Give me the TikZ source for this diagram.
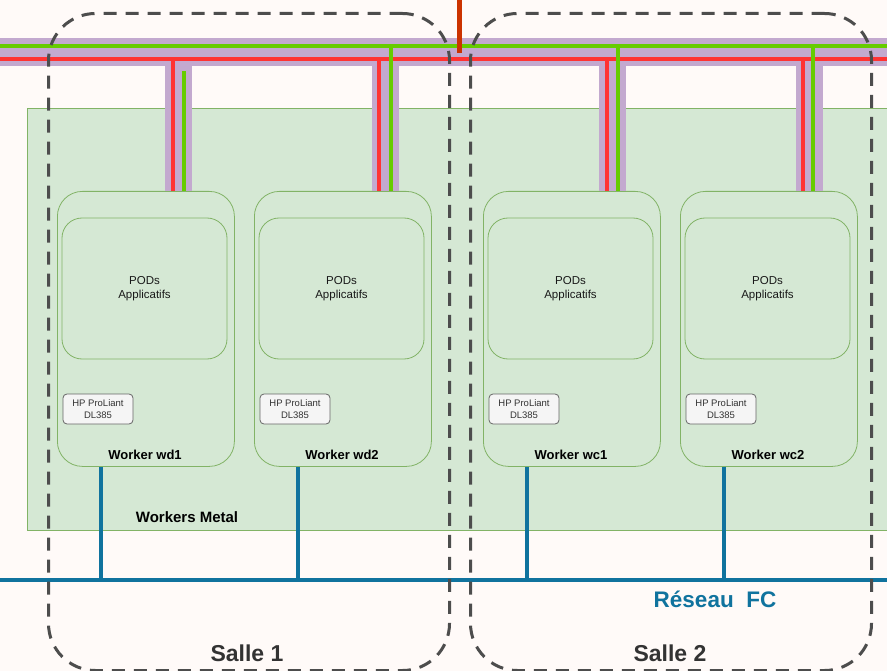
\documentclass[tikz,border=0pt]{standalone}
\usepackage{fontspec}
\setmainfont{Liberation Sans}
\usetikzlibrary{calc}
\definecolor{bgc}{HTML}{FFFAF8}
\definecolor{panelfill}{HTML}{D5E8D4}
\definecolor{paneldraw}{HTML}{82B366}
\definecolor{purp}{HTML}{C3A9CF}
\definecolor{redc}{HTML}{FF3333}
\definecolor{greenc}{HTML}{66CC00}
\definecolor{darkred}{HTML}{CC3300}
\definecolor{bluec}{HTML}{10739E}
\definecolor{dashc}{HTML}{4D4D4D}
\definecolor{hpfill}{HTML}{F5F5F5}
\definecolor{hpdraw}{HTML}{666666}
\begin{document}
\begin{tikzpicture}[x=1pt,y=-1pt,
  panelbox/.style={draw=paneldraw,fill=panelfill,line width=0.8pt,minimum width=861pt,minimum height=422pt,anchor=north west,inner sep=0pt},
  worker/.style={draw=paneldraw,fill=panelfill,line width=0.8pt,rounded corners=25pt,minimum width=177pt,minimum height=275pt,inner sep=0pt},
  pods/.style={draw=paneldraw,fill=panelfill,line width=0.8pt,rounded corners=20pt,minimum width=165pt,minimum height=141pt,align=center,inner sep=0pt,font=\fontsize{11.5}{14.5}\selectfont,text=black!90},
  hp/.style={draw=hpdraw,fill=hpfill,line width=0.8pt,rounded corners=4pt,minimum width=70pt,minimum height=30pt,align=center,inner sep=0pt,font=\fontsize{9.5}{12.5}\selectfont,text=black!80},
  wlabel/.style={font=\bfseries\fontsize{13}{15}\selectfont,text=black,inner sep=0pt},
  purpleband/.style={draw=purp,line width=28pt},
  redline/.style={draw=redc,line width=4.5pt},
  greenline/.style={draw=greenc,line width=4pt},
  fcline/.style={draw=bluec,line width=4.5pt},
  salle/.style={draw=dashc,line width=3pt,dash pattern=on 13pt off 9pt,rounded corners=47pt,minimum width=401pt,minimum height=657pt,anchor=north west,inner sep=0pt},
  sallelabel/.style={font=\bfseries\fontsize{23}{26}\selectfont,text=black!80,inner sep=0pt}
]
\useasboundingbox (0,0) rectangle (887,671);
\fill[bgc] (0,0) rectangle (887,671);

\node[panelbox] (panel) at (27,108) {};
\node[font=\bfseries\fontsize{15}{18}\selectfont,inner sep=0pt] (panellbl) at (187,517) {Workers Metal};

\foreach \n/\t/\x in {wd1/Worker wd1/57, wd2/Worker wd2/254, wc1/Worker wc1/483, wc2/Worker wc2/680}{
  \node[worker,anchor=north west] (\n) at (\x,191) {};
  \node[pods] (\n-pods) at (\x+87.5,288.5) {PODs\\Applicatifs};
  \node[hp] (\n-hp) at (\x+41,409) {HP ProLiant\\DL385};
  \node[wlabel] (\n-lbl) at (\x+88,455) {\t};
}

% network band
\coordinate (bandL) at (0,52);
\coordinate (bandR) at (887,52);
\coordinate (greenL) at (0,46);
\coordinate (greenR) at (887,46);
\coordinate (redL) at (0,59);
\coordinate (redR) at (887,59);
\draw[purpleband] (bandL) -- (bandR);
\foreach \n/\p in {wd1/108, wd2/118, wc1/116, wc2/116}{
  \draw[purpleband,line width=27pt] ($(\n.north west)+(\p+13.5,0)$) coordinate (\n-s) -- (\n-s |- bandL);
}
\draw[greenline,line width=3.5pt] (greenL) -- (greenR);
\draw[redline,line width=4pt] (redL) -- (redR);
\foreach \n/\r/\g/\gy in {wd1/116/127/71, wd2/125/137/46, wc1/124/135/46, wc2/123/133/46}{
  \draw[redline] ($(\n.north west)+(\r,0)$) coordinate (\n-r) -- (\n-r |- redL);
  \path ($(\n.north west)+(\g,0)$) coordinate (\n-g) ++(0,\gy-191) coordinate (\n-gt);
  \draw[greenline] (\n-g) -- (\n-gt);
}
\coordinate (upA) at (459,0);
\coordinate (upB) at (459,53);
\draw[draw=darkred,line width=5pt] (upA) -- (upB);

% FC network
\coordinate (fcL) at (0,580);
\coordinate (fcR) at (887,580);
\draw[fcline] (fcL) -- (fcR);
\foreach \n in {wd1,wd2,wc1,wc2}{
  \draw[fcline] ($(\n.south west)+(44,0)$) coordinate (\n-b) -- (\n-b |- fcL);
}
\node[font=\bfseries\fontsize{22.5}{25}\selectfont,text=bluec,inner sep=0pt] (fclbl) at (715,599) {Réseau\ \ FC};

% rooms
\node[salle] (salle1) at (47,12) {};
\node[salle] (salle2) at (469,12) {};
\node[sallelabel] (s1lbl) at (247,653) {Salle 1};
\node[sallelabel] (s2lbl) at (670,653) {Salle 2};
\end{tikzpicture}
\end{document}
